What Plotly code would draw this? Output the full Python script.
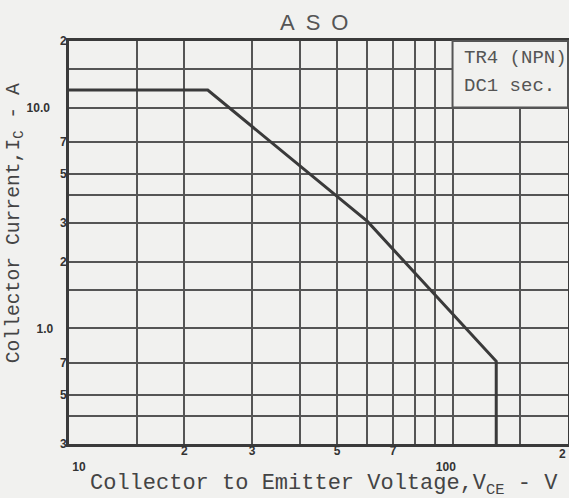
import math
import plotly.graph_objects as go

# ---- data ----
vce = [10, 23, 60, 130, 130]          # Collector-emitter voltage (V)
ic = [12, 12, 3.05, 0.71, 0.3]        # Collector current (A)

x_grid = [10, 15, 20, 30, 40, 50, 60, 70, 80, 90, 100, 150, 200]
x_labels = ["<br>" + "\u00a0" * 6 + "10", "", "2", "3", "", "5", "", "7", "", "", "<br>100" + "\u00a0" * 4, "", ""]
x_end_label = "2"   # label of the 200 V gridline at the right edge

y_grid = [0.3, 0.4, 0.5, 0.7, 1.0, 1.5, 2, 3, 4, 5, 7, 10, 15, 20]
y_labels = ["3", "", "5", "7", "1.0" + "\u00a0" * 4, "", "2", "3", "", "5", "7", "10.0" + "\u00a0" * 5, "", "2"]

BG = "#f1f1ef"
GRID = "#555555"
INK = "#3a3a3a"

fig = go.Figure()
fig.add_trace(go.Scatter(
    x=vce, y=ic, mode="lines",
    line=dict(color=INK, width=3),
    showlegend=False, hoverinfo="skip",
))

tickfont = dict(family="Liberation Sans", size=12, color="#333333", weight="bold")

fig.update_layout(
    width=569, height=498,
    margin=dict(l=69, r=1, t=41, b=54, autoexpand=False),
    paper_bgcolor=BG, plot_bgcolor=BG,
    showlegend=False,
    xaxis=dict(
        type="log", range=[1, math.log10(200)],
        tickmode="array", tickvals=x_grid, ticktext=x_labels,
        showgrid=True, gridcolor=GRID, gridwidth=2,
        showline=True, linecolor=INK, linewidth=3, mirror=True,
        ticks="", ticklen=0, tickfont=tickfont, zeroline=False,
        ticklabeloverflow="allow", automargin=False, ticklabelstandoff=-6,
    ),
    yaxis=dict(
        type="log", range=[math.log10(0.3), math.log10(20)],
        tickmode="array", tickvals=y_grid, ticktext=y_labels,
        showgrid=True, gridcolor=GRID, gridwidth=2,
        showline=True, linecolor=INK, linewidth=3, mirror=True,
        ticks="", ticklen=0, tickfont=tickfont, zeroline=False,
        ticklabeloverflow="allow", automargin=False, ticklabelstandoff=-3,
    ),
)

# right-edge tick label (kept inside the window)
fig.add_annotation(text=x_end_label, xref="paper", yref="paper", x=1, y=0,
                   xanchor="right", yanchor="top", xshift=-1, yshift=-2,
                   showarrow=False, borderpad=0, font=tickfont)

# label box in upper-right corner (grid is not drawn inside it)
fig.add_shape(
    type="rect", xref="x domain", yref="y domain",
    x0=1 / math.log10(20), x1=1,
    y0=(1 - math.log10(0.3)) / (math.log10(20) - math.log10(0.3)), y1=1,
    fillcolor=BG, line=dict(color=GRID, width=2), layer="above",
)

mono = "Liberation Mono"
fig.add_annotation(text="TR4 (NPN)", xref="paper", yref="paper", x=0.788, y=0.958,
                   xanchor="left", yanchor="middle", showarrow=False,
                   font=dict(family=mono, size=19, color="#555555"))
fig.add_annotation(text="DC1 sec.", xref="paper", yref="paper", x=0.788, y=0.888,
                   xanchor="left", yanchor="middle", showarrow=False,
                   font=dict(family=mono, size=19, color="#555555"))

# title
fig.add_annotation(text="A\u2002S\u2002O", xref="paper", yref="paper", x=0.491, y=1.0447,
                   xanchor="center", yanchor="middle", showarrow=False,
                   font=dict(family="Liberation Sans", size=22, color="#555555"))

# axis titles
fig.add_annotation(text="Collector to Emitter Voltage,V<sub>CE</sub> - V", xref="paper", yref="paper",
                   x=0.511, y=-0.140, xanchor="center", yanchor="bottom", showarrow=False,
                   borderpad=0,
                   font=dict(family=mono, size=22, color="#444444"))
fig.add_annotation(text="Collector Current,I<sub>C</sub> - A", xref="paper", yref="paper",
                   x=-0.108, y=0.548, xanchor="center", yanchor="middle", showarrow=False,
                   textangle=-90,
                   font=dict(family=mono, size=19.7, color="#444444"))

fig.write_html(
    "out.html",
    config={"displayModeBar": False},
    post_script="document.body.style.margin='0';document.body.style.overflow='hidden';",
)
